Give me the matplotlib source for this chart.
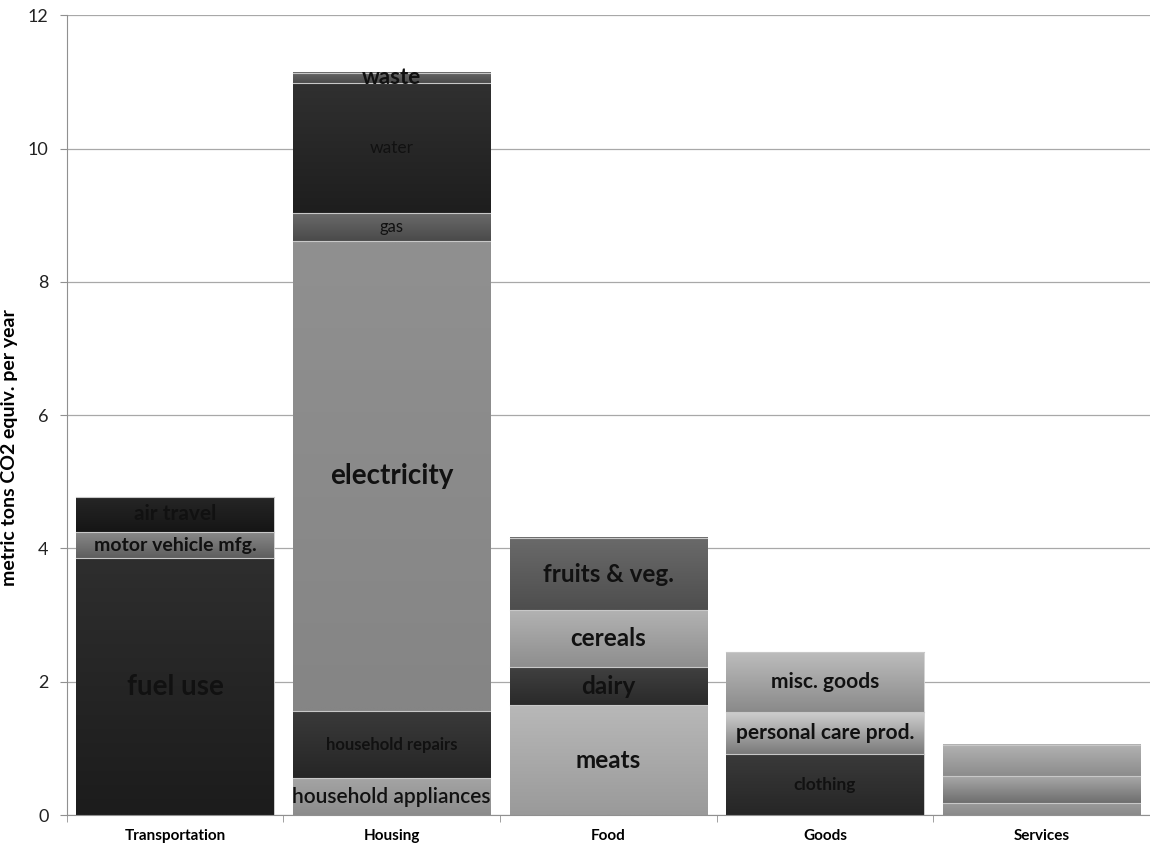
import matplotlib
matplotlib.use("Agg")
import matplotlib.pyplot as plt
import matplotlib.colors as mcolors
import numpy as np

plt.rcParams['font.family'] = ['Lato', 'DejaVu Sans']

# data (metric tons CO2 equiv. per year)
categories = ["Transportation", "Housing", "Food", "Goods", "Services"]

transport_parts = ["fuel use", "motor vehicle mfg.", "air travel"]
transport_vals = [3.85, 0.40, 0.52]

housing_parts = ["household appliances", "household repairs", "electricity", "gas", "water", "waste"]
housing_vals = [0.55, 1.01, 7.06, 0.41, 1.95, 0.16]

food_parts = ["meats", "dairy", "cereals", "fruits & veg."]
food_vals = [1.65, 0.57, 0.85, 1.09]

goods_parts = ["clothing", "personal care prod.", "misc. goods"]
goods_vals = [0.91, 0.64, 0.89]

services_parts = ["", "", ""]
services_vals = [0.18, 0.40, 0.47]

# styles: (top colour, bottom colour, font size, weight)
transport_style = [("#2e2e2e", "#1c1c1c", 20, "bold"),
                   ("#8a8a8a", "#5e5e5e", 14, "bold"),
                   ("#262626", "#151515", 15, "bold")]
housing_style = [("#a4a4a4", "#8c8c8c", 15, "semibold"),
                 ("#3a3a3a", "#262626", 12, "bold"),
                 ("#909090", "#858585", 20, "bold"),
                 ("#6a6a6a", "#4a4a4a", 12, "normal"),
                 ("#303030", "#1e1e1e", 12.5, "normal"),
                 ("#6a6a6a", "#4a4a4a", 16, "bold")]
food_style = [("#b8b8b8", "#9a9a9a", 17.5, "bold"),
              ("#404040", "#2a2a2a", 17.5, "bold"),
              ("#b2b2b2", "#8e8e8e", 17.5, "bold"),
              ("#6a6a6a", "#4e4e4e", 17.5, "bold")]
goods_style = [("#3a3a3a", "#262626", 12.5, "bold"),
               ("#d0d0d0", "#7a7a7a", 15, "bold"),
               ("#bcbcbc", "#8a8a8a", 15, "bold")]
services_style = [("#9a9a9a", "#8a8a8a", 10, "bold"),
                  ("#a8a8a8", "#6e6e6e", 10, "bold"),
                  ("#b2b2b2", "#8c8c8c", 10, "bold")]

stacks = [(transport_parts, transport_vals, transport_style),
          (housing_parts, housing_vals, housing_style),
          (food_parts, food_vals, food_style),
          (goods_parts, goods_vals, goods_style),
          (services_parts, services_vals, services_style)]

fig = plt.figure(figsize=(11.5, 8.49), dpi=100)
ax = fig.add_axes([0.058, 0.040, 0.942, 0.942])

x = np.arange(len(categories))
width = 0.91

for i, (parts, vals, styles) in enumerate(stacks):
    bottom = 0.0
    for name, v, (ctop, cbot, fs, fw) in zip(parts, vals, styles):
        bars = ax.bar(x[i], v, width, bottom=bottom, color=cbot,
                      edgecolor="#d8d8d8", linewidth=0.6, zorder=2)
        patch = bars[0]
        x0, y0 = patch.get_x(), patch.get_y()
        x1, y1 = x0 + patch.get_width(), y0 + patch.get_height()
        t = np.linspace(0, 1, 64)[:, None]
        c0 = np.array(mcolors.to_rgb(ctop))
        c1 = np.array(mcolors.to_rgb(cbot))
        img = (c0 * (1 - t) + c1 * t)[:, None, :]
        ax.imshow(img, extent=(x0, x1, y0, y1), aspect="auto", origin="upper",
                  zorder=2.5, interpolation="bilinear")
        ax.plot([x0, x1], [y1, y1], color="#c8c8c8", lw=0.8, zorder=3)
        if name:
            ax.text(x[i], bottom + v / 2, name, ha="center", va="center",
                    fontsize=fs, fontweight=fw, color="#111111", zorder=4)
        bottom += v

ax.set_xlim(-0.5, 4.5)
ax.set_ylim(0, 12)
ax.set_yticks(np.arange(0, 13, 2))
ax.set_xticks(x)
ax.set_xticklabels(categories, fontsize=11, fontweight="bold")
ax.set_xticks(np.arange(-0.5, 5, 1), minor=True)
ax.tick_params(axis="x", which="major", length=0, pad=10)
ax.tick_params(axis="x", which="minor", length=5, color="#909090", direction="out")
ax.tick_params(axis="y", length=5, color="#909090", labelsize=13, pad=8, labelcolor="#222222")
ax.grid(axis="y", color="#a8a8a8", lw=0.9, zorder=0)
ax.set_axisbelow(True)
for s in ["top", "right"]:
    ax.spines[s].set_visible(False)
ax.spines["left"].set_color("#909090")
ax.spines["bottom"].set_color("#909090")
ax.set_ylabel("metric tons CO2 equiv. per year", fontsize=14, fontweight="bold")
ax.yaxis.set_label_coords(-0.045, 0.46)

fig.savefig("out.png", dpi=100)
